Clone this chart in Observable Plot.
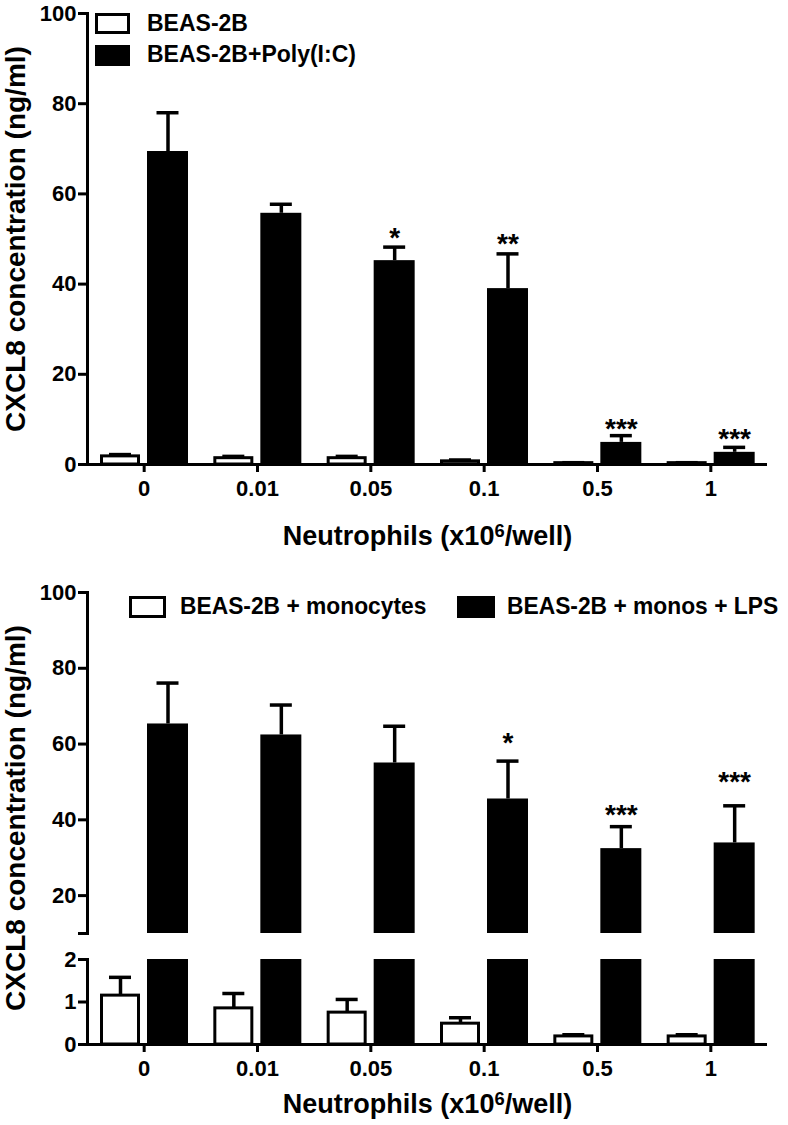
<!DOCTYPE html>
<html><head><meta charset="utf-8">
<script src="https://cdn.jsdelivr.net/npm/d3@7"></script>
<script src="https://cdn.jsdelivr.net/npm/@observablehq/plot@0.6"></script>
<style>
body{margin:0;background:#fff;font-family:"Liberation Sans",Arial,Helvetica,sans-serif;}
#wrap{position:relative;width:788px;height:1125px;overflow:hidden;background:#fff}
.panel{position:absolute;left:0}
.lg-box{position:absolute;box-sizing:border-box;border:3px solid #000;background:#fff}
.lg-box.fill{background:#000}
.lg-text{position:absolute;font-weight:bold;font-size:23px;line-height:23px;white-space:nowrap;color:#000;transform-origin:left center}
.ytitle{position:absolute;width:420px;text-align:center;font-weight:bold;font-size:28px;line-height:28px;white-space:nowrap;transform:rotate(-90deg);transform-origin:center center}
</style></head><body><div id="wrap"></div>
<script>
// ---- data ----
const categories = ["0", "0.01", "0.05", "0.1", "0.5", "1"];
// top panel
const beasMean = [1.8, 1.4, 1.4, 0.7, 0.3, 0.3];
const beasErr  = [0.4, 0.4, 0.4, 0.3, 0.1, 0.1];
const polyMean = [69.4, 55.7, 45.2, 39.0, 4.9, 2.7];
const polyErr  = [8.6, 2.0, 3.0, 7.7, 1.5, 1.1];
const polyStars = ["", "", "*", "**", "***", "***"];
const polyStarY = [null, null, 51.8, 50.5, 9.4, 7.2];
// bottom panel
const monoMean = [1.15, 0.85, 0.75, 0.49, 0.19, 0.19];
const monoErr  = [0.43, 0.35, 0.31, 0.14, 0.04, 0.04];
const lpsMean  = [65.3, 62.4, 55.0, 45.5, 32.4, 33.9];
const lpsErr   = [10.8, 7.9, 9.7, 10.0, 5.8, 9.8];
const lpsStars = ["", "", "", "*", "***", "***"];
const lpsStarY = [null, null, null, 62.1, 43.2, 51.8];
const topTicks = [0, 20, 40, 60, 80, 100];
const upperTicks = [10, 20, 40, 60, 80, 100];
const lowerTicks = [0, 1, 2];
const yTitle = "CXCL8 concentration (ng/ml)";
const xTitleParts = ["Neutrophils (x10", "6", "/well)"];
const xTitle = xTitleParts.join("");
const topLegend = ["BEAS-2B", "BEAS-2B+Poly(I:C)"];
const bottomLegend = ["BEAS-2B + monocytes", "BEAS-2B + monos + LPS"];

// ---- build tables ----
const mk = (m, e, s, sy) => categories.map((c, i) => ({cat: c, mean: m[i], err: e[i], star: s ? s[i] : "", starY: sy ? sy[i] : null}));
const beas = mk(beasMean, beasErr);
const poly = mk(polyMean, polyErr, polyStars, polyStarY);
const mono = mk(monoMean, monoErr);
const lps = mk(lpsMean, lpsErr, lpsStars, lpsStarY);

const FONT = "'Liberation Sans', Arial, Helvetica, sans-serif";
const W = 788, ML = 87, MR = 21;
const BW = (W - ML - MR) / categories.length;
// geometry inside each band
const whiteL = 14.5, whiteR = BW - 51.5;
const blackL = 60, blackR = BW - 101;
const whiteDx = 33 - BW / 2, blackDx = 80.5 - BW / 2;
const capW = 22;
const wCapL = 33 - capW / 2, wCapR = BW - (33 + capW / 2);
const bCapL = 80.5 - capW / 2, bCapR = BW - (80.5 + capW / 2);
const SW = 3.5;

const baseStyle = {background: "transparent", fontFamily: FONT, fontWeight: "bold", fontSize: "22px", overflow: "visible", color: "black"};

function errMarks(data, dx, capL, capR) {
  return [
    Plot.ruleX(data, {x: "cat", y1: "mean", y2: d => d.mean + d.err, dx, strokeWidth: SW}),
    Plot.tickY(data, {x: "cat", y: d => d.mean + d.err, insetLeft: capL, insetRight: capR, strokeWidth: SW})
  ];
}
function starMarks(data) {
  return Plot.text(data.filter(d => d.star), {x: "cat", y: "starY", text: "star", dx: blackDx, dy: 7, fontSize: 28, fontWeight: "bold", fill: "black"});
}
const xScale = {domain: categories, padding: 0, round: false};
const fmt = d => String(d);

// ---- top chart ----
const chartTop = Plot.plot({
  width: W, height: 560, marginLeft: ML, marginRight: MR, marginTop: 13, marginBottom: 96,
  style: baseStyle,
  x: xScale,
  y: {domain: [0, 100]},
  marks: [
    Plot.barY(beas, {x: "cat", y: "mean", fill: "white", stroke: "black", strokeWidth: 3, insetLeft: whiteL, insetRight: whiteR}),
    ...errMarks(beas, whiteDx, wCapL, wCapR),
    Plot.barY(poly, {x: "cat", y: "mean", fill: "black", insetLeft: blackL, insetRight: blackR}),
    ...errMarks(poly, blackDx, bCapL, bCapR),
    starMarks(poly),
    Plot.ruleY([0], {strokeWidth: 3}),
    Plot.frame({anchor: "left", strokeWidth: 3}),
    Plot.axisY({ticks: topTicks, tickFormat: fmt, tickSize: 9, tickPadding: 2, strokeWidth: 3, fontSize: 22, fontWeight: "bold", label: null}),
    Plot.axisX({tickSize: 8, tickPadding: 8, strokeWidth: 3, fontSize: 22, fontWeight: "bold", label: null}),
    Plot.text([yTitle], {frameAnchor: "left", rotate: -90, dx: -71, textAnchor: "middle", lineAnchor: "middle", fontSize: 28, fontWeight: "bold"}),
    Plot.text([xTitle], {frameAnchor: "bottom", dy: 72, textAnchor: "middle", lineAnchor: "middle", fontSize: 27, fontWeight: "bold"})
  ]
});

// ---- bottom upper (broken axis, 10-100) ----
const chartUpper = Plot.plot({
  width: W, height: 380, marginLeft: ML, marginRight: MR, marginTop: 32, marginBottom: 7,
  style: baseStyle,
  x: {...xScale, axis: null},
  y: {domain: [10, 100]},
  marks: [
    Plot.barY(lps, {x: "cat", y: "mean", fill: "black", insetLeft: blackL, insetRight: blackR, clip: true}),
    ...errMarks(lps, blackDx, bCapL, bCapR),
    starMarks(lps),
    Plot.frame({anchor: "left", strokeWidth: 3}),
    Plot.axisY({ticks: upperTicks, tickFormat: d => d === 10 ? "" : String(d), tickSize: 9, tickPadding: 2, strokeWidth: 3, fontSize: 22, fontWeight: "bold", label: null})
  ]
});

// ---- bottom lower (0-2) ----
const chartLower = Plot.plot({
  width: W, height: 185, marginLeft: ML, marginRight: MR, marginTop: 19, marginBottom: 81,
  style: baseStyle,
  x: xScale,
  y: {domain: [0, 2]},
  marks: [
    Plot.barY(mono, {x: "cat", y: "mean", fill: "white", stroke: "black", strokeWidth: 3, insetLeft: whiteL, insetRight: whiteR}),
    ...errMarks(mono, whiteDx, wCapL, wCapR),
    Plot.barY(lps, {x: "cat", y: "mean", fill: "black", insetLeft: blackL, insetRight: blackR, clip: true}),
    Plot.ruleY([0], {strokeWidth: 3}),
    Plot.frame({anchor: "left", strokeWidth: 3}),
    Plot.axisY({ticks: lowerTicks, tickFormat: fmt, tickSize: 9, tickPadding: 2, strokeWidth: 3, fontSize: 22, fontWeight: "bold", label: null}),
    Plot.axisX({tickSize: 8, tickPadding: 8, strokeWidth: 3, fontSize: 22, fontWeight: "bold", label: null}),
    Plot.text([xTitle], {frameAnchor: "bottom", dy: 60, textAnchor: "middle", lineAnchor: "middle", fontSize: 27, fontWeight: "bold"})
  ]
});

// render the exponent in the x title as a real superscript
const NS = "http://www.w3.org/2000/svg";
for (const svg of [chartTop, chartLower]) {
  svg.querySelectorAll("text").forEach(t => {
    if (t.textContent !== xTitle) return;
    while (t.firstChild) t.removeChild(t.firstChild);
    const a = document.createElementNS(NS, "tspan"); a.textContent = xTitleParts[0];
    const b = document.createElementNS(NS, "tspan"); b.textContent = xTitleParts[1];
    b.setAttribute("dy", "-0.42em"); b.setAttribute("font-size", "0.68em");
    const c = document.createElementNS(NS, "tspan"); c.textContent = xTitleParts[2];
    c.setAttribute("dy", "0.29em");
    t.append(a, b, c);
  });
}

const wrap = document.getElementById("wrap");
function place(el, t) { el.classList.add("panel"); el.style.top = t + "px"; wrap.appendChild(el); }
place(chartTop, 0);
place(chartUpper, 560);
place(chartLower, 940);

function addBox(l, t, w, h, filled) {
  const d = document.createElement("div");
  d.className = "lg-box" + (filled ? " fill" : "");
  Object.assign(d.style, {left: l + "px", top: t + "px", width: w + "px", height: h + "px"});
  wrap.appendChild(d);
}
function addText(l, t, s, size, sx) {
  const d = document.createElement("div");
  d.className = "lg-text";
  d.textContent = s;
  Object.assign(d.style, {left: l + "px", top: t + "px"});
  if (size) { d.style.fontSize = size + "px"; d.style.lineHeight = size + "px"; }
  if (sx) d.style.transform = `scaleX(${sx})`;
  wrap.appendChild(d);
}
// top legend
addBox(95, 13, 35, 21, false); addText(147, 12, topLegend[0]);
addBox(95, 45, 35, 21, true);  addText(147, 43, topLegend[1]);
// bottom legend
addBox(129, 596, 37, 22, false); addText(180, 594, bottomLegend[0], 24, 0.95);
addBox(457, 596, 38, 22, true);  addText(507, 594, bottomLegend[1], 24, 0.95);
// bottom y title
const yt = document.createElement("div");
yt.className = "ytitle";
yt.textContent = yTitle;
Object.assign(yt.style, {left: (16 - 210) + "px", top: (818 - 14) + "px"});
wrap.appendChild(yt);
</script>
</body></html>
